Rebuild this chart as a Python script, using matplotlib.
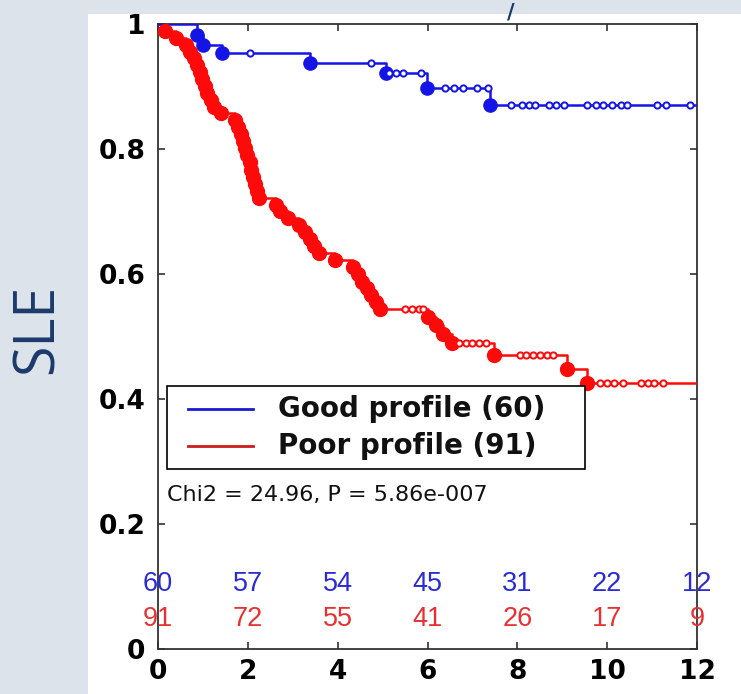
import numpy as np
import matplotlib
matplotlib.use("Agg")
import matplotlib.pyplot as plt
from matplotlib.patches import Rectangle

# ---------------- data ----------------
good_event_t = [0.86, 1.00, 1.42, 3.39, 5.08, 5.99, 7.39]
good_event_s = [0.983, 0.967, 0.954, 0.938, 0.922, 0.897, 0.871]
good_censor_t = [2.05, 4.75, 5.15, 5.30, 5.45, 5.85, 6.40, 6.60, 6.80, 7.10, 7.35,
                 7.85, 8.10, 8.25, 8.40, 8.70, 8.85, 9.05, 9.55, 9.75, 9.90,
                 10.10, 10.30, 10.45, 11.10, 11.30, 11.85]

poor_event_t = [0.15, 0.40, 0.62, 0.72, 0.80, 0.87, 0.93, 0.98, 1.04, 1.10, 1.17,
                1.25, 1.40, 1.72, 1.78, 1.84, 1.89, 1.94, 1.99, 2.04, 2.08, 2.12,
                2.16, 2.20, 2.25, 2.62, 2.72, 2.90, 3.15, 3.28, 3.38, 3.48, 3.58,
                3.95, 4.35, 4.45, 4.55, 4.65, 4.75, 4.85, 4.95, 6.02, 6.18, 6.35,
                6.55, 7.47, 9.10, 9.55]
poor_event_s = [0.989, 0.978, 0.967, 0.956, 0.945, 0.934, 0.923, 0.912, 0.901,
                0.890, 0.879, 0.868, 0.857, 0.846, 0.835, 0.824, 0.813, 0.802,
                0.790, 0.779, 0.767, 0.756, 0.744, 0.733, 0.721, 0.711, 0.701,
                0.690, 0.679, 0.667, 0.656, 0.645, 0.634, 0.623, 0.611, 0.600,
                0.588, 0.577, 0.566, 0.555, 0.544, 0.531, 0.518, 0.504, 0.490,
                0.470, 0.448, 0.426]
poor_censor_t = [5.50, 5.65, 5.80, 5.90, 6.70, 6.85, 7.00, 7.15, 7.30, 8.05, 8.20,
                 8.35, 8.50, 8.65, 8.80, 9.85, 10.00, 10.15, 10.35, 10.75, 10.90,
                 11.05, 11.25]

risk_times = [0, 2, 4, 6, 8, 10, 12]
good_at_risk = [60, 57, 54, 45, 31, 22, 12]
poor_at_risk = [91, 72, 55, 41, 26, 17, 9]

x_ticks = [0, 2, 4, 6, 8, 10, 12]
y_ticks = [0, 0.2, 0.4, 0.6, 0.8, 1.0]
y_tick_labels = ["0", "0.2", "0.4", "0.6", "0.8", "1"]
legend_labels = ["Good profile (60)", "Poor profile (91)"]
stat_text = "Chi2 = 24.96, P = 5.86e-007"
y_label = "SLE"

BLUE = "#1414e6"
RED = "#ff0a0a"

# ---------------- figure ----------------
W, H = 741, 694
fig = plt.figure(figsize=(W / 100, H / 100), dpi=100, facecolor="#dde3ea")
fig.patches.append(Rectangle((88 / W, 0), 1, (H - 14) / H, transform=fig.transFigure,
                             facecolor="white", edgecolor="none", zorder=-10))

ax = fig.add_axes([158 / W, 45 / H, 539 / W, 625 / H])
ax.set_facecolor("white")


def km(et, es, ct, color, ms, tmax=12):
    et = np.asarray(et, float)
    es = np.asarray(es, float)
    t = np.concatenate([[0], et, [tmax]])
    s = np.concatenate([[1], es, [es[-1]]])
    ax.step(t, s, where="post", color=color, lw=1.8, zorder=3)
    ax.plot(et, es, "o", ms=ms, color=color, mec=color, zorder=4)
    levels = np.concatenate([[1], es])
    idx = np.searchsorted(et, np.asarray(ct), side="right")
    ax.plot(ct, levels[idx], "o", ms=4.5, mfc="white", mec=color, mew=1.4, zorder=4)


km(poor_event_t, poor_event_s, poor_censor_t, RED, 10)
km(good_event_t, good_event_s, good_censor_t, BLUE, 9.5)

ax.set_xlim(0, 12)
ax.set_ylim(0, 1)
ax.set_xticks(x_ticks)
ax.set_xticklabels([str(v) for v in x_ticks])
ax.set_yticks(y_ticks)
ax.set_yticklabels(y_tick_labels)
ax.tick_params(direction="in", length=5, width=1.2, top=True, right=True,
               labelsize=19, color="#333333")
ax.tick_params(axis="y", pad=9)
ax.tick_params(axis="x", pad=7)
for lab in ax.get_xticklabels() + ax.get_yticklabels():
    lab.set_fontweight("bold")
    lab.set_family("DejaVu Sans")
for sp in ax.spines.values():
    sp.set_linewidth(1.3)
    sp.set_color("#333333")

# numbers at risk
for t, n in zip(risk_times, good_at_risk):
    ax.text(t, 0.104, str(n), color="#2b2bd6", ha="center", va="center",
            fontsize=19.5, family="Liberation Sans", zorder=6)
for t, n in zip(risk_times, poor_at_risk):
    ax.text(t, 0.048, str(n), color="#e83030", ha="center", va="center",
            fontsize=19.5, family="Liberation Sans", zorder=6)

# legend (manual box)
ax.add_patch(Rectangle((0.0167, 0.288), 0.775, 0.133, transform=ax.transAxes,
                       facecolor="white", edgecolor="black", lw=1.2, zorder=7))
for yy, col, lab in [(0.384, "#1a1ad0", legend_labels[0]),
                     (0.325, "#cc1a1a", legend_labels[1])]:
    ax.plot([0.0557, 0.176], [yy, yy], transform=ax.transAxes, color=col, lw=2,
            zorder=8, clip_on=False)
    ax.text(0.2226, yy, lab, transform=ax.transAxes, ha="left", va="center",
            fontsize=20, fontweight="bold", family="DejaVu Sans", color="#111111",
            zorder=8)

ax.text(0.0167, 0.246, stat_text, transform=ax.transAxes, ha="left", va="center",
        fontsize=16, family="DejaVu Sans", color="#111111", zorder=8)

# side label and title fragment
fig.text(38 / W, 1 - 329 / H, y_label, rotation=90, ha="center", va="center",
         fontsize=40, family="Open Sans", color="#1b3a6b")
fig.text(511 / W, 1 - 12 / H, "/", ha="center", va="center", fontsize=15,
         fontweight="bold", color="#1b3a6b")

fig.savefig("out.png", dpi=100, facecolor=fig.get_facecolor())
